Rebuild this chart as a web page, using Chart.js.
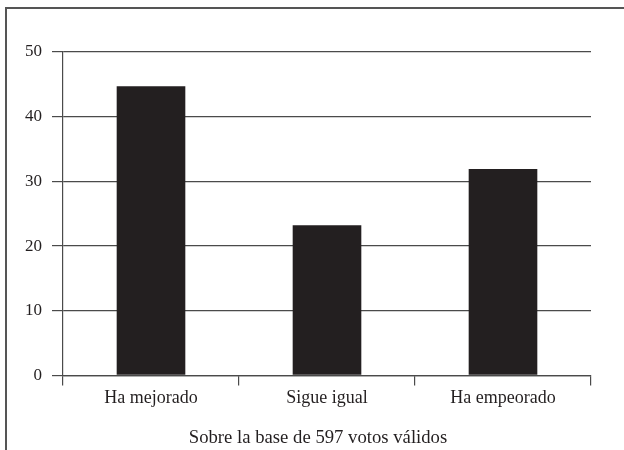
<!DOCTYPE html>
<html>
<head>
<meta charset="utf-8">
<script src="https://cdn.jsdelivr.net/npm/chart.js@4/dist/chart.umd.min.js"></script>
<style>
html,body{margin:0;padding:0;background:#fff;}
#wrap{width:624px;height:450px;position:relative;}
</style>
</head>
<body>
<div id="wrap"><canvas id="c" width="624" height="450"></canvas></div>
<script>
const categories = ["Ha mejorado", "Sigue igual", "Ha empeorado"];
const values = [44.7, 23.2, 31.9];
const yTicks = [0, 10, 20, 30, 40, 50];
const footnote = "Sobre la base de 597 votos válidos";

const ink = "#231f20";
const gridCol = "#4a4a4a";
const fontFam = "'Liberation Serif', 'DejaVu Serif', serif";

const framePlugin = {
  id: "frame",
  beforeDraw(chart) {
    const ctx = chart.ctx;
    ctx.save();
    ctx.strokeStyle = "#555";
    ctx.lineWidth = 2;
    ctx.beginPath();
    ctx.moveTo(6, 450);
    ctx.lineTo(6, 8);
    ctx.lineTo(624, 8);
    ctx.stroke();
    ctx.restore();
  },
  afterDraw(chart) {
    const ctx = chart.ctx;
    const a = chart.chartArea;
    ctx.save();
    ctx.fillStyle = ink;
    ctx.font = "18.7px " + fontFam;
    ctx.textAlign = "center";
    ctx.textBaseline = "middle";
    ctx.fillText(footnote, (a.left + a.right) / 2 - 9, a.bottom + 63);
    ctx.restore();
  }
};

new Chart(document.getElementById("c"), {
  type: "bar",
  data: {
    labels: categories,
    datasets: [{
      data: values,
      backgroundColor: ink,
      borderWidth: 0,
      categoryPercentage: 1.0,
      barPercentage: 0.39
    }]
  },
  options: {
    responsive: false,
    animation: false,
    devicePixelRatio: 1,
    layout: { padding: { left: 6, right: 33, top: 52, bottom: 39 } },
    plugins: {
      legend: { display: false },
      tooltip: { enabled: false },
      title: { display: false }
    },
    scales: {
      x: {
        offset: true,
        grid: {
          offset: true,
          drawOnChartArea: false,
          drawTicks: true,
          tickLength: 10,
          color: gridCol,
          lineWidth: 1.2
        },
        border: { display: true, color: gridCol, width: 1.2 },
        ticks: {
          color: ink,
          font: { family: fontFam, size: 18 },
          padding: 2,
          maxRotation: 0
        }
      },
      y: {
        min: 0,
        max: 50,
        afterBuildTicks(scale) { scale.ticks = yTicks.map(v => ({ value: v })); },
        afterFit(scale) { scale.width = 57; },
        grid: {
          drawOnChartArea: true,
          drawTicks: true,
          tickLength: 11,
          color: gridCol,
          lineWidth: 1.2
        },
        border: { display: true, color: gridCol, width: 1.2 },
        ticks: {
          color: ink,
          font: { family: fontFam, size: 17 },
          padding: 10
        }
      }
    }
  },
  plugins: [framePlugin]
});
</script>
</body>
</html>
